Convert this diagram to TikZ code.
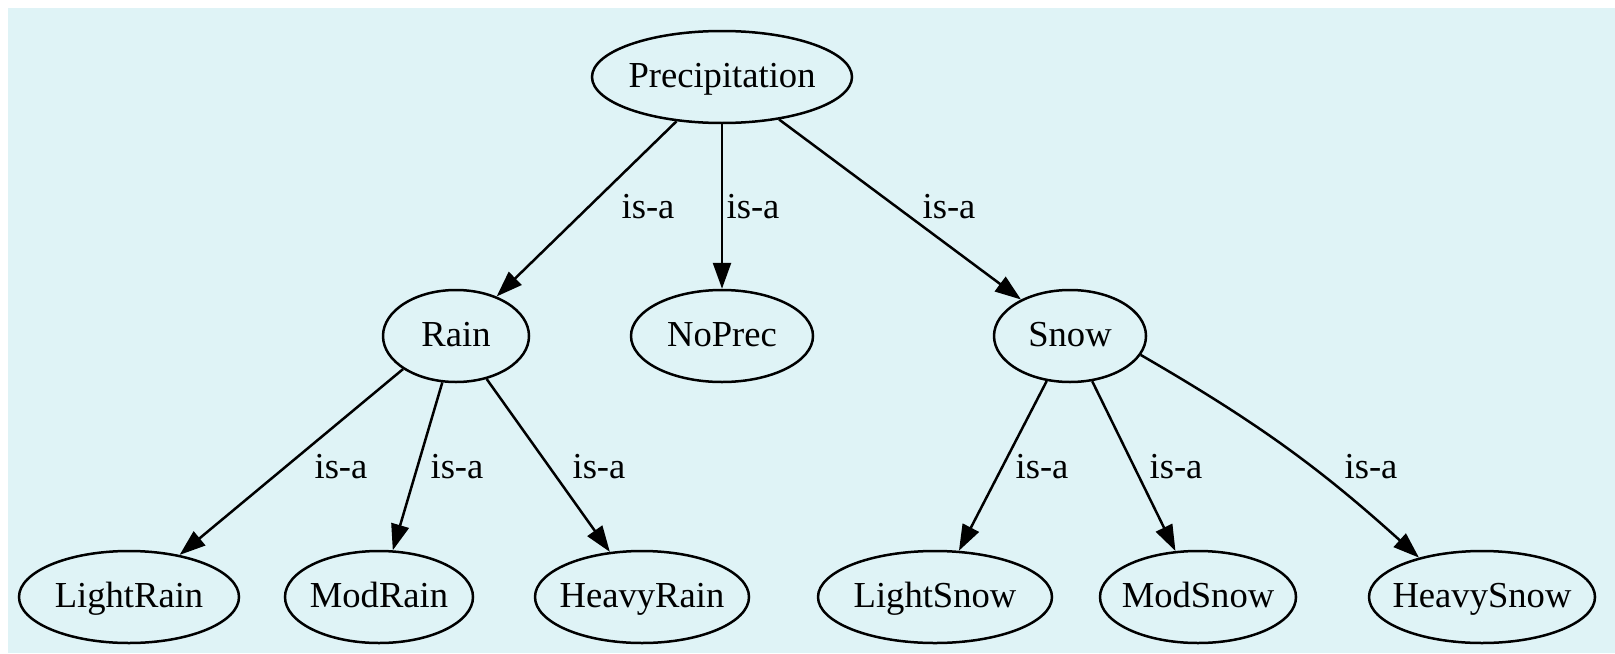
\documentclass[tikz,border=0pt]{standalone}
\usepackage{fontspec}
\setmainfont{Liberation Serif}
\usetikzlibrary{shapes.geometric,arrows.meta}
\definecolor{bgblue}{RGB}{223,243,246}
\tikzset{
  ell/.style={draw, ellipse, line width=1.25pt, inner sep=0pt, minimum height=46pt,
    text height=13pt, text depth=3pt, font=\fontsize{18.3}{22}\selectfont},
  lbl/.style={inner sep=0pt, font=\fontsize{18.3}{22}\selectfont},
  isa/.style={line width=1.25pt, -{Triangle[length=13pt,width=9pt]}}
}
\newcommand{\zt}[1]{\makebox[0pt]{#1}}
\begin{document}
\begin{tikzpicture}[x=0.5pt,y=-0.5pt]
\useasboundingbox (0,0) rectangle (1615,653);
\fill[bgblue] (8,8) rectangle (1615,653);
\node[ell, minimum width=130pt] (P) at (722,77) {\zt{Precipitation}};
\node[ell, minimum width=73pt] (R) at (456,336) {\zt{Rain}};
\node[ell, minimum width=91pt] (N) at (722,336) {\zt{NoPrec}};
\node[ell, minimum width=76pt] (S) at (1070,336) {\zt{Snow}};
\node[ell, minimum width=110pt] (LR) at (129,597) {\zt{LightRain}};
\node[ell, minimum width=94pt] (MR) at (379,597) {\zt{ModRain}};
\node[ell, minimum width=107pt] (HR) at (642,597) {\zt{HeavyRain}};
\node[ell, minimum width=117pt] (LS) at (935,597) {\zt{LightSnow}};
\node[ell, minimum width=98pt] (MS) at (1198,597) {\zt{ModSnow}};
\node[ell, minimum width=113pt] (HS) at (1482,597) {\zt{HeavySnow}};
\draw[isa] (P) -- (R);
\draw[isa] (P.south -| N.north) -- (N);
\draw[isa] (P) -- (S);
\draw[isa] (R.212) -- (LR);
\draw[isa] (R) -- (MR);
\draw[isa] (R) -- (HR);
\draw[isa] (S) -- (LS);
\draw[isa] (S) -- (MS);
\draw[isa] (S.345) to[bend left=6] (HS.148);
\node[lbl] (l1) at (648,207) {is-a};
\node[lbl] (l2) at (753,207) {is-a};
\node[lbl] (l3) at (949,207) {is-a};
\node[lbl] (l4) at (341,467) {is-a};
\node[lbl] (l5) at (457,467) {is-a};
\node[lbl] (l6) at (599,467) {is-a};
\node[lbl] (l7) at (1042,467) {is-a};
\node[lbl] (l8) at (1176,467) {is-a};
\node[lbl] (l9) at (1371,467) {is-a};
\end{tikzpicture}
\end{document}
